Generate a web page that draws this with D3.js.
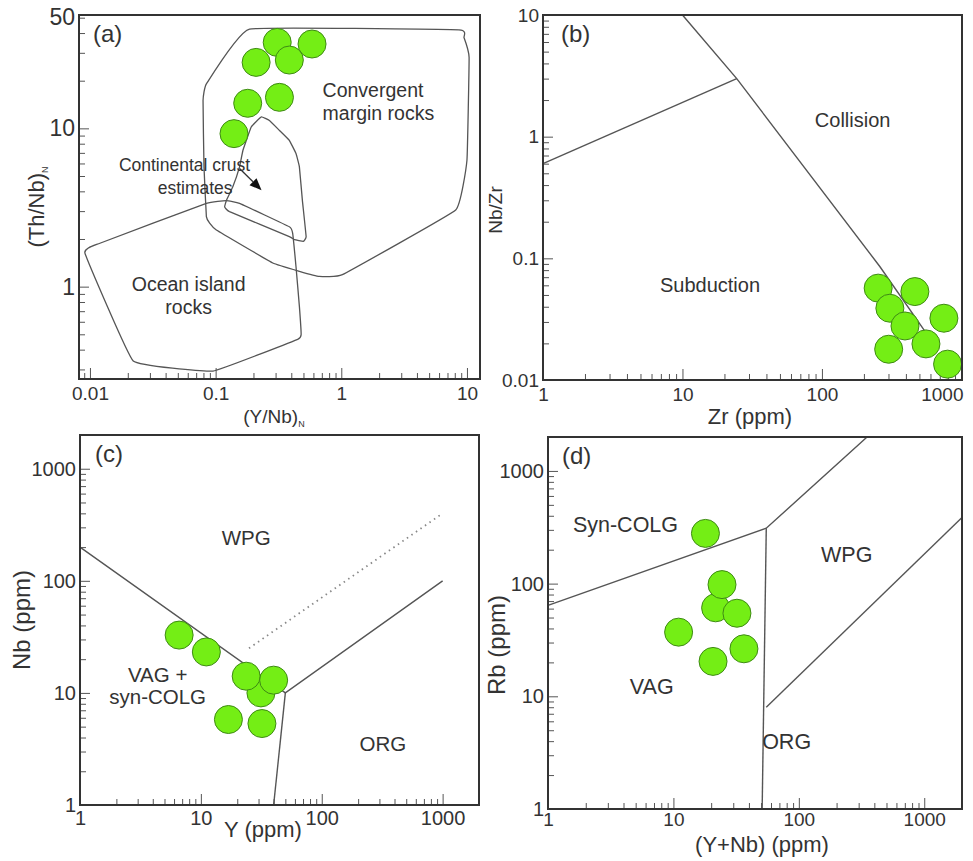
<!DOCTYPE html>
<html>
<head>
<meta charset="utf-8">
<script src="https://cdnjs.cloudflare.com/ajax/libs/d3/7.8.5/d3.min.js"></script>
<style>
  body { margin: 0; background: #fff; }
  svg text { font-family: "Liberation Sans", Arial, sans-serif; fill: #333; }
</style>
</head>
<body>
<svg id="chart" width="973" height="861"></svg>
<script>
// ---------- data ----------
// (a) (Th/Nb)N vs (Y/Nb)N
var samplesA = [[0.309, 34.9], [0.585, 34.1], [0.210, 26.1], [0.386, 27.0], [0.180, 14.4], [0.322, 15.7], [0.140, 9.26]];
var convergentField = [[0.186, 42.4], [8.64, 41.9], [9.47, 37.5], [10.4, 28.1], [10.0, 6.29], [8.14, 3.05], [1.02, 1.19],
  [0.668, 1.16], [0.464, 1.25], [0.285, 1.41], [0.1013, 2.28], [0.0896, 2.52], [0.0844, 2.77], [0.0808, 5.71],
  [0.0794, 15.0], [0.0844, 19.1]];
var crustField = [[0.231, 11.8], [0.268, 11.2], [0.322, 9.7], [0.386, 8.4], [0.436, 6.93], [0.464, 5.71], [0.490, 3.52],
  [0.525, 2.07], [0.499, 1.93], [0.424, 1.98], [0.386, 2.07], [0.129, 2.98], [0.118, 3.19], [0.122, 3.52],
  [0.137, 4.27], [0.155, 5.71], [0.165, 7.27], [0.192, 10.2]];
var oceanField = [[0.00912, 1.63], [0.0120, 1.88], [0.0844, 3.36], [0.1216, 3.49], [0.155, 3.36], [0.386, 2.39],
  [0.410, 2.18], [0.436, 1.34], [0.464, 0.751], [0.479, 0.499], [0.450, 0.465], [0.0952, 0.293], [0.0221, 0.339]];
var crustArrow = [[0.155, 5.58], [0.232, 4.07]];
var labelsA = [
  { t: "Convergent", x: 0.71, y: 15.8, a: "start", s: 19.5 },
  { t: "margin rocks", x: 0.71, y: 11.3, a: "start", s: 19.5 },
  { t: "Continental crust", x: 0.0566, y: 5.38, a: "middle", s: 17.5 },
  { t: "estimates", x: 0.0687, y: 3.85, a: "middle", s: 17.5 },
  { t: "Ocean island", x: 0.061, y: 0.94, a: "middle", s: 19.5 },
  { t: "rocks", x: 0.061, y: 0.67, a: "middle", s: 19.5 }
];

// (b) Nb/Zr vs Zr
var samplesB = [[253, 0.0569], [464, 0.0533], [307, 0.0389], [749, 0.0322], [394, 0.0278], [301, 0.0179], [557, 0.0198], [796, 0.0135]];
var linesB = [
  [[1, 0.6], [24.5, 3.0]],
  [[10, 10], [24.5, 3.0], [260, 0.0857], [550, 0.025]]
];
var labelsB = [
  { t: "Collision", x: 89, y: 1.19, a: "start", s: 20 },
  { t: "Subduction", x: 6.9, y: 0.053, a: "start", s: 20 }
];

// (c) Nb vs Y
var samplesC = [[6.61, 32.8], [11.1, 23.2], [31.4, 10.0], [23.7, 14.1], [40.0, 13.0], [16.9, 5.79], [32.0, 5.33]];
var linesC = [
  [[1, 200], [50, 10], [1000, 100]],
  [[50, 10], [40, 1]]
];
var dottedC = [[25, 25], [1000, 400]];
var labelsC = [
  { t: "WPG", x: 23.7, y: 210, a: "middle", s: 20.5 },
  { t: "VAG +", x: 4.39, y: 12.4, a: "middle", s: 20.5 },
  { t: "syn-COLG", x: 4.39, y: 7.9, a: "middle", s: 20.5 },
  { t: "ORG", x: 321, y: 3.05, a: "middle", s: 20.5 }
];

// (d) Rb vs Y+Nb
var samplesD = [[18.0, 279], [21.7, 61], [24.4, 98], [32.1, 54.6], [11.0, 37.1], [36.5, 26.4], [20.7, 20.4]];
var linesD = [
  [[1, 64], [55, 310], [350, 2000]],
  [[55, 310], [51, 1]],
  [[55, 8], [2000, 386]]
];
var labelsD = [
  { t: "Syn-COLG", x: 1.58, y: 288, a: "start", s: 21.5 },
  { t: "VAG", x: 4.49, y: 10.4, a: "start", s: 21.5 },
  { t: "WPG", x: 241, y: 157, a: "middle", s: 21.5 },
  { t: "ORG", x: 51, y: 3.4, a: "start", s: 21.5 }
];

// ---------- drawing ----------
var svg = d3.select("#chart");

function minorTicks(domain) {
  var out = [];
  var lo = Math.floor(Math.log10(domain[0])), hi = Math.ceil(Math.log10(domain[1]));
  for (var e = lo; e <= hi; e++) {
    for (var k = 1; k <= 9; k++) {
      var v = +(k * Math.pow(10, e)).toPrecision(6);
      if (v >= domain[0] * 0.999 && v <= domain[1] * 1.001) out.push(v);
    }
  }
  return out;
}
function isMajor(v) {
  var l = Math.log10(v);
  return Math.abs(l - Math.round(l)) < 1e-6;
}

function panel(cfg) {
  var g = svg.append("g").attr("transform", "translate(" + cfg.left + "," + cfg.top + ")");
  var w = cfg.right - cfg.left, h = cfg.bottom - cfg.top;
  var x = d3.scaleLog().domain(cfg.xDomain).range([0, w]);
  var y = d3.scaleLog().domain(cfg.yDomain).range([h, 0]);

  // bottom axis, ticks pointing inward
  var xa = g.append("g").attr("transform", "translate(0," + h + ")")
    .call(d3.axisBottom(x).tickValues(minorTicks(cfg.xDomain)).tickSize(-6).tickPadding(cfg.xPad)
      .tickFormat(function (d) { return cfg.xLabels.indexOf(d) >= 0 ? String(d) : ""; }));
  xa.select(".domain").remove();
  xa.selectAll(".tick line").attr("stroke", "#555").attr("y2", function (d) { return isMajor(d) ? -11 : -6; });
  xa.selectAll(".tick text").style("font-size", cfg.xTickSize + "px").attr("fill", "#333")
    .attr("text-anchor", function (d) { return x(d) > w - 12 ? "end" : "middle"; })
    .attr("x", function (d) { return x(d) > w - 12 ? w - x(d) + 1 : 0; });

  // left axis
  var ya = g.append("g")
    .call(d3.axisLeft(y).tickValues(minorTicks(cfg.yDomain)).tickSize(-5).tickPadding(4)
      .tickFormat(function (d) { return cfg.yLabels.indexOf(d) >= 0 ? String(d) : ""; }));
  ya.select(".domain").remove();
  ya.selectAll(".tick line").attr("stroke", "#555").attr("x2", function (d) { return isMajor(d) ? 10 : 6; });
  ya.selectAll(".tick text").style("font-size", cfg.yTickSize + "px").attr("fill", "#333");
  if (cfg.yExtra) {
    g.append("text").attr("x", -4).attr("y", y(cfg.yExtra)).attr("dy", "0.32em")
      .attr("text-anchor", "end").style("font-size", cfg.yTickSize + "px").text(cfg.yExtra);
  }

  var line = d3.line().x(function (d) { return x(d[0]); }).y(function (d) { return y(d[1]); });
  var closed = d3.line().x(function (d) { return x(d[0]); }).y(function (d) { return y(d[1]); })
    .curve(d3.curveCardinalClosed.tension(0.75));

  (cfg.fields || []).forEach(function (f) {
    g.append("path").attr("d", closed(f)).attr("fill", "none").attr("stroke", "#555").attr("stroke-width", 1.3);
  });
  (cfg.lines || []).forEach(function (l) {
    g.append("path").attr("d", line(l)).attr("fill", "none").attr("stroke", "#555").attr("stroke-width", 1.4);
  });
  if (cfg.dotted) {
    g.append("path").attr("d", line(cfg.dotted)).attr("fill", "none").attr("stroke", "#888")
      .attr("stroke-width", 1.8).attr("stroke-dasharray", "1.5,4");
  }
  if (cfg.arrow) {
    var a0 = [x(cfg.arrow[0][0]), y(cfg.arrow[0][1])], a1 = [x(cfg.arrow[1][0]), y(cfg.arrow[1][1])];
    var ang = Math.atan2(a1[1] - a0[1], a1[0] - a0[0]);
    var hl = 12, hw = 5;
    var base = [a1[0] - hl * Math.cos(ang), a1[1] - hl * Math.sin(ang)];
    g.append("line").attr("x1", a0[0]).attr("y1", a0[1]).attr("x2", base[0]).attr("y2", base[1])
      .attr("stroke", "#333").attr("stroke-width", 1.3);
    g.append("path").attr("fill", "#111").attr("d", "M" + a1[0] + "," + a1[1] +
      "L" + (base[0] + hw * Math.sin(ang)) + "," + (base[1] - hw * Math.cos(ang)) +
      "L" + (base[0] - hw * Math.sin(ang)) + "," + (base[1] + hw * Math.cos(ang)) + "Z");
  }

  (cfg.labels || []).forEach(function (t) {
    g.append("text").attr("x", x(t.x)).attr("y", y(t.y)).attr("text-anchor", t.a)
      .style("font-size", t.s + "px").text(t.t);
  });

  g.selectAll("circle.pt").data(cfg.samples).enter().append("circle").attr("class", "pt")
    .attr("cx", function (d) { return x(d[0]); }).attr("cy", function (d) { return y(d[1]); })
    .attr("r", 14).attr("fill", "#74ee15").attr("stroke", "#3e8a14").attr("stroke-width", 1);

  // frame
  g.append("rect").attr("width", w).attr("height", h).attr("fill", "none")
    .attr("stroke", "#333").attr("stroke-width", 2);

  // panel letter
  g.append("text").attr("x", cfg.letterDx).attr("y", 27).style("font-size", "24px").text(cfg.letter);

  // axis titles
  var xt = svg.append("text").attr("x", cfg.xTitlePos[0]).attr("y", cfg.xTitlePos[1])
    .attr("text-anchor", "middle").style("font-size", cfg.xTitleSize + "px").text(cfg.xTitle);
  if (cfg.xSub) xt.append("tspan").attr("dy", 4).style("font-size", "9px").text(cfg.xSub);
  var yt = svg.append("text")
    .attr("transform", "translate(" + cfg.yTitlePos[0] + "," + cfg.yTitlePos[1] + ") rotate(-90)")
    .attr("text-anchor", "middle").attr("dy", "0.35em").style("font-size", cfg.yTitleSize + "px").text(cfg.yTitle);
  if (cfg.ySub) yt.append("tspan").attr("dy", 4).style("font-size", "9px").text(cfg.ySub);
}

panel({
  left: 79, top: 15, right: 480, bottom: 379,
  xDomain: [0.00818, 12.7], yDomain: [0.261, 52],
  xLabels: [0.01, 0.1, 1, 10], yLabels: [1, 10], yExtra: 50,
  xTickSize: 19, yTickSize: 23, xPad: 8,
  fields: [convergentField, crustField, oceanField], arrow: crustArrow,
  labels: labelsA, samples: samplesA, letter: "(a)", letterDx: 14,
  xTitle: "(Y/Nb)", xSub: "N", xTitlePos: [274, 423], xTitleSize: 19,
  yTitle: "(Th/Nb)", ySub: "N", yTitlePos: [36, 207], yTitleSize: 22
});

panel({
  left: 543, top: 15, right: 962, bottom: 380,
  xDomain: [1, 1010], yDomain: [0.01, 10],
  xLabels: [1, 10, 100, 1000], yLabels: [0.01, 0.1, 1, 10],
  xTickSize: 19, yTickSize: 19, xPad: 8,
  lines: linesB, labels: labelsB, samples: samplesB, letter: "(b)", letterDx: 18,
  xTitle: "Zr (ppm)", xTitlePos: [750, 424], xTitleSize: 22,
  yTitle: "Nb/Zr", yTitlePos: [495, 210], yTitleSize: 19
});

panel({
  left: 80, top: 435, right: 479, bottom: 805,
  xDomain: [1, 2000], yDomain: [1, 2000],
  xLabels: [1, 10, 100, 1000], yLabels: [1, 10, 100, 1000],
  xTickSize: 20, yTickSize: 20, xPad: 6,
  lines: linesC, dotted: dottedC, labels: labelsC, samples: samplesC, letter: "(c)", letterDx: 15,
  xTitle: "Y (ppm)", xTitlePos: [263, 837], xTitleSize: 22,
  yTitle: "Nb (ppm)", yTitlePos: [22, 620], yTitleSize: 24
});

panel({
  left: 548, top: 437, right: 962, bottom: 809,
  xDomain: [1, 2000], yDomain: [1, 2000],
  xLabels: [1, 10, 100, 1000], yLabels: [1, 10, 100, 1000],
  xTickSize: 19, yTickSize: 20, xPad: 3,
  lines: linesD, labels: labelsD, samples: samplesD, letter: "(d)", letterDx: 14,
  xTitle: "(Y+Nb) (ppm)", xTitlePos: [762, 852], xTitleSize: 22,
  yTitle: "Rb (ppm)", yTitlePos: [497, 645], yTitleSize: 24
});
</script>
</body>
</html>
